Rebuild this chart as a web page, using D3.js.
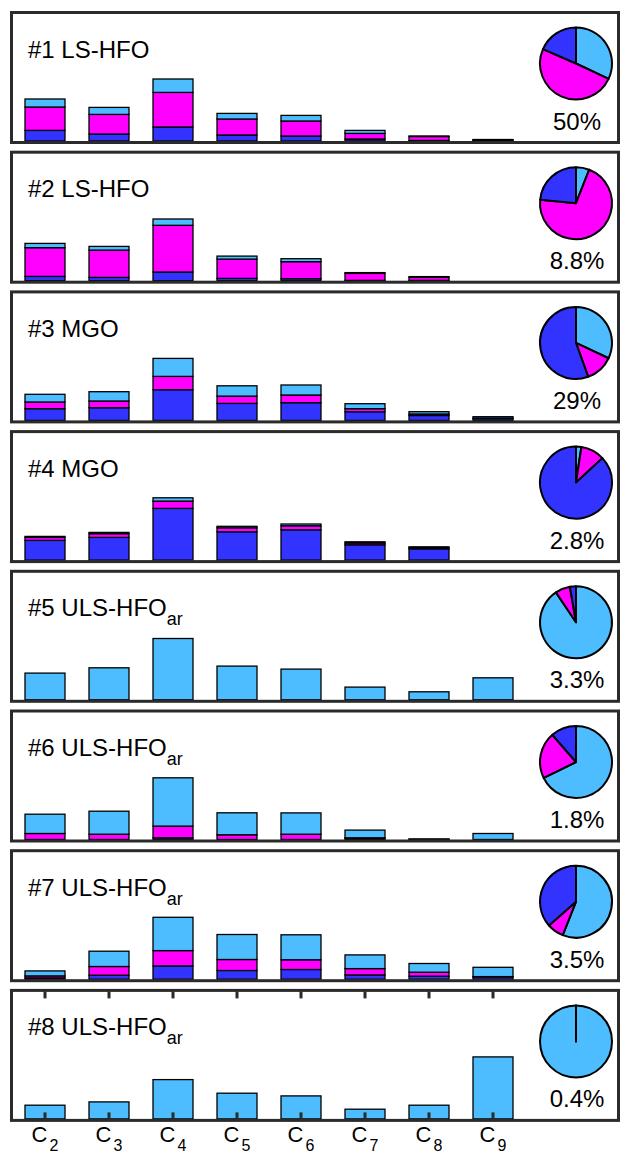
<!DOCTYPE html>
<html>
<head>
<meta charset="utf-8">
<script src="https://cdn.jsdelivr.net/npm/d3@7"></script>
<style>
  html, body { margin: 0; padding: 0; background: #fff; }
  svg { display: block; }
  text { font-family: "Liberation Sans", Arial, Helvetica, sans-serif; fill: #000; }
</style>
</head>
<body>
<svg id="chart" width="621" height="1157"></svg>
<script>
// Carbon-number classes on the x axis
const categories = ["C2", "C3", "C4", "C5", "C6", "C7", "C8", "C9"];

// One panel per fuel / operating case
const titles   = ["#1 LS-HFO", "#2 LS-HFO", "#3 MGO", "#4 MGO",
                  "#5 ULS-HFO", "#6 ULS-HFO", "#7 ULS-HFO", "#8 ULS-HFO"];
const subs     = ["", "", "", "", "ar", "ar", "ar", "ar"];
const shares   = ["50%", "8.8%", "29%", "2.8%", "3.3%", "1.8%", "3.5%", "0.4%"];

// Stacked bar components per panel (relative units), bottom to top: blue, magenta, cyan
const blueVals = [
  [10.6, 7.0, 14.0, 6.0, 5.0, 2.0, 0.5, 0.5],
  [4.3, 3.3, 8.7, 2.3, 2.0, 0.3, 0.3, 0],
  [11.7, 12.7, 30.7, 17.0, 17.7, 8.7, 4.9, 1.8],
  [19.7, 22.7, 51.7, 28.3, 30.3, 15.3, 11.3, 0],
  [0, 0, 0, 0, 0, 0, 0, 0],
  [0, 0, 1.7, 0, 0, 1.2, 0.3, 0],
  [1.3, 4.0, 13.3, 8.7, 9.7, 4.3, 3.0, 2.3],
  [0, 0, 0, 0, 0, 0, 0, 0]
];
const magentaVals = [
  [23.4, 19.6, 34.6, 16.0, 15.0, 5.6, 4.0, 0.5],
  [28.7, 27.3, 46.7, 19.3, 17.0, 7.0, 3.0, 0],
  [6.7, 6.7, 13.3, 7.3, 7.7, 3.0, 1.5, 0.4],
  [3.0, 3.7, 7.3, 4.0, 4.0, 1.8, 1.0, 0],
  [0, 0, 0, 0, 0, 0, 0, 0],
  [6.0, 5.3, 11.7, 4.7, 5.3, 0.5, 0.2, 0],
  [2.0, 8.7, 15.3, 11.0, 9.7, 6.3, 4.0, 0.3],
  [0, 0, 0, 0, 0, 0, 0, 0]
];
const cyanVals = [
  [8.0, 7.0, 13.4, 5.6, 5.6, 3.0, 0.5, 0.5],
  [4.3, 3.7, 6.3, 3.0, 3.0, 0.8, 0.8, 0],
  [7.7, 9.3, 18.0, 10.3, 10.0, 5.0, 2.3, 1.5],
  [1.0, 1.3, 3.3, 1.5, 1.8, 1.2, 1.0, 0],
  [26.7, 32.0, 61.3, 33.7, 30.7, 12.7, 8.0, 22.0],
  [19.3, 23.0, 48.3, 22.0, 21.3, 7.7, 0, 6.0],
  [5.0, 15.3, 33.3, 25.0, 25.0, 13.7, 8.7, 9.3],
  [13.7, 17.0, 39.3, 25.7, 23.0, 9.7, 13.7, 62.0]
];

// Pie fractions (%) per panel, clockwise from 12 o'clock: cyan, magenta, blue
const pieCyan    = [32.0, 6.0, 32.0, 2.4, 90.6, 67.7, 56.0, 100];
const pieMagenta = [49.5, 70.5, 12.5, 10.7, 6.7, 20.9, 7.5, 0];
const pieBlue    = [18.5, 23.5, 55.5, 86.9, 2.7, 11.4, 36.5, 0];

const seriesKeys = ["blue", "magenta", "cyan"];
const colour = d3.scaleOrdinal()
  .domain(seriesKeys)
  .range(["#3333ff", "#ff00ff", "#4dbdff"]);

const svg = d3.select("#chart");

const panelLeft = 11.5, panelWidth = 607, panelHeight = 130;
const panelStep = 139.7, firstTop = 12.5;

const x = d3.scaleBand()
  .domain(categories)
  .range([13, 525])
  .paddingInner(0.375)
  .paddingOuter(0.1875);

const pie = d3.pie().sort(null).value(d => d.value);
const arc = d3.arc().innerRadius(0).outerRadius(36);

titles.forEach((title, i) => {
  const top = firstTop + i * panelStep;
  const base = top + panelHeight - 1.5;
  const y = d3.scaleLinear().domain([0, 127]).range([base, base - 127]);

  const g = svg.append("g").attr("class", "panel");

  // Stacked bars
  const rows = categories.map((c, k) => ({
    cat: c,
    blue: blueVals[i][k],
    magenta: magentaVals[i][k],
    cyan: cyanVals[i][k]
  }));
  const stacked = d3.stack().keys(seriesKeys)(rows);

  g.selectAll("g.series")
    .data(stacked)
    .join("g")
    .attr("class", "series")
    .attr("fill", d => colour(d.key))
    .selectAll("rect")
    .data(d => d.filter(s => s[1] - s[0] > 0))
    .join("rect")
    .attr("x", d => x(d.data.cat))
    .attr("width", x.bandwidth())
    .attr("y", d => y(d[1]))
    .attr("height", d => y(d[0]) - y(d[1]))
    .attr("stroke", "#000")
    .attr("stroke-width", 1.3);

  // Bottom panel carries the category axis with inward ticks on both edges
  if (i === titles.length - 1) {
    const axB = g.append("g")
      .attr("transform", `translate(0,${top + panelHeight - 1})`)
      .call(d3.axisBottom(x).tickSize(-7).tickFormat(""));
    const axT = g.append("g")
      .attr("transform", `translate(0,${top + 1})`)
      .call(d3.axisTop(x).tickSize(-7).tickFormat(""));
    [axB, axT].forEach(a => {
      a.select(".domain").remove();
      a.selectAll(".tick line").attr("stroke", "#2b2b2b").attr("stroke-width", 3);
    });

    const lab = g.append("g").selectAll("text")
      .data(categories)
      .join("text")
      .attr("x", d => x(d) + x.bandwidth() / 2)
      .attr("y", top + panelHeight + 22)
      .attr("text-anchor", "middle")
      .style("font-size", "22px");
    lab.append("tspan").text(d => d.charAt(0));
    lab.append("tspan")
      .attr("dx", 2)
      .attr("dy", 9)
      .style("font-size", "16px")
      .text(d => d.slice(1));
  }

  // Frame
  g.append("rect")
    .attr("x", panelLeft)
    .attr("y", top)
    .attr("width", panelWidth)
    .attr("height", panelHeight)
    .attr("fill", "none")
    .attr("stroke", "#2b2b2b")
    .attr("stroke-width", 3);

  // Title with optional subscript
  const t = g.append("text")
    .attr("x", 28)
    .attr("y", top + 45)
    .style("font-size", "24px");
  t.append("tspan").text(title);
  if (subs[i]) {
    t.append("tspan")
      .attr("dy", 9)
      .style("font-size", "18px")
      .text(subs[i]);
  }

  // Composition pie
  const pieData = [
    { key: "cyan", value: pieCyan[i] },
    { key: "magenta", value: pieMagenta[i] },
    { key: "blue", value: pieBlue[i] }
  ];
  g.append("g")
    .attr("transform", `translate(576,${top + 51})`)
    .selectAll("path")
    .data(pie(pieData))
    .join("path")
    .attr("d", arc)
    .attr("fill", d => colour(d.data.key))
    .attr("stroke", "#000")
    .attr("stroke-width", 2)
    .attr("stroke-linejoin", "round");

  g.append("text")
    .attr("x", 577)
    .attr("y", top + 117)
    .attr("text-anchor", "middle")
    .style("font-size", "24px")
    .text(shares[i]);
});
</script>
</body>
</html>
